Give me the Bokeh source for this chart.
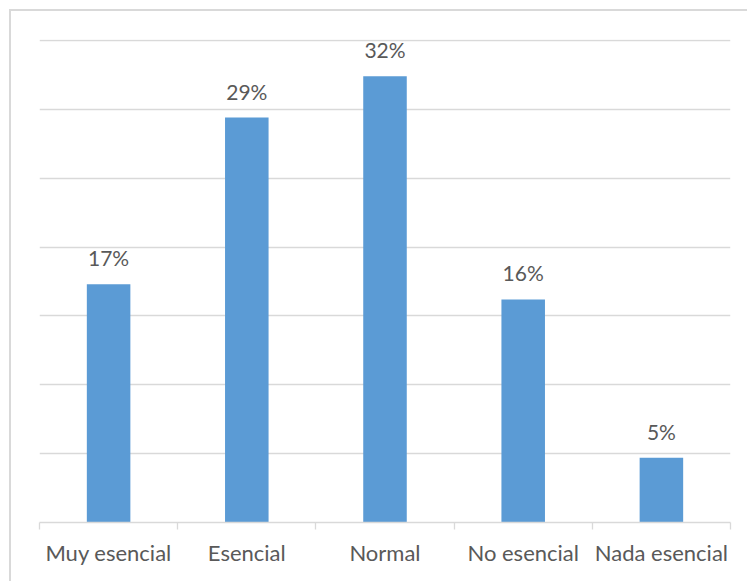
from bokeh.plotting import figure
from bokeh.models import ColumnDataSource, LabelSet, FixedTicker, Range1d
from bokeh.core.properties import value
from bokeh.embed import file_html
from bokeh.resources import INLINE

categories = ["Muy esencial", "Esencial", "Normal", "No esencial", "Nada esencial"]
values = [0.173, 0.294, 0.324, 0.162, 0.047]
grid_values = [0.05, 0.10, 0.15, 0.20, 0.25, 0.30, 0.35]

xs = [i + 0.5 for i in range(len(categories))]
labels = [f"{round(v * 100)}%" for v in values]
src = ColumnDataSource(data=dict(x=xs, top=values, label=labels))

p = figure(width=738, height=572, output_backend="svg", toolbar_location=None,
           x_range=Range1d(0, len(categories)), y_range=Range1d(0, max(grid_values) * 1.002),
           min_border_left=28, min_border_right=19, min_border_top=28, min_border_bottom=61)
p.margin = (9, 0, 0, 9)
p.styles = {"border-left": "2px solid #D9D9D9", "border-top": "2px solid #D9D9D9"}

p.vbar(x="x", top="top", width=0.315, bottom=0, source=src,
       fill_color="#5B9BD5", line_color=None)

p.add_layout(LabelSet(x="x", y="top", text="label", source=src, y_offset=18,
                      text_align="center", text_baseline="alphabetic",
                      text_font=value("Lato"), text_font_size=value("21px"),
                      text_color=value("#595959")))

p.outline_line_color = None
p.background_fill_color = "white"
p.border_fill_color = "white"

p.xgrid.visible = False
p.ygrid.ticker = FixedTicker(ticks=grid_values)
p.ygrid.grid_line_color = "#D9D9D9"
p.ygrid.grid_line_width = 1.3
p.yaxis.visible = False

xa = p.xaxis[0]
xa.ticker = FixedTicker(ticks=xs, minor_ticks=list(range(len(categories) + 1)))
xa.major_label_overrides = {x: c for x, c in zip(xs, categories)}
xa.axis_line_color = "#D9D9D9"
xa.axis_line_width = 1.3
xa.major_tick_line_color = None
xa.major_tick_in = 0
xa.major_tick_out = 0
xa.minor_tick_line_color = "#D9D9D9"
xa.minor_tick_line_width = 1.3
xa.minor_tick_in = 0
xa.minor_tick_out = 7
xa.major_label_standoff = 9
xa.major_label_text_font = "Lato"
xa.major_label_text_font_size = "22px"
xa.major_label_text_color = "#595959"

open("out.html", "w").write(file_html(p, INLINE))
